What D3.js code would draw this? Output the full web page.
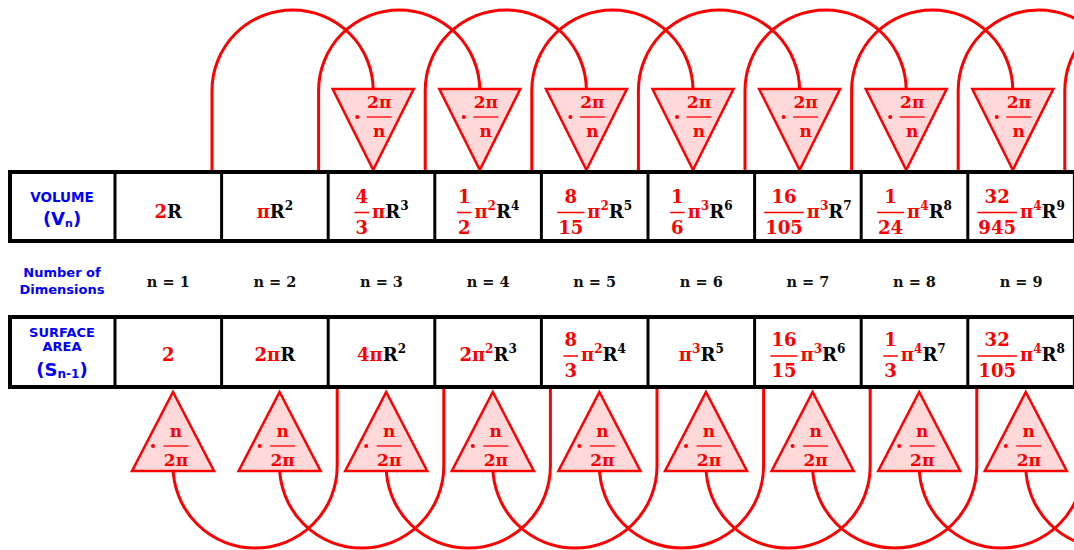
<!DOCTYPE html>
<html>
<head>
<meta charset="utf-8">
<script src="https://cdn.jsdelivr.net/npm/d3@7"></script>
<style>
  body { margin: 0; background: #fff; }
  svg { display: block; }
  .serif { font-family: "DejaVu Serif", serif; font-weight: bold; }
  .label { font-family: "DejaVu Sans", sans-serif; font-weight: bold; fill: #0000ff; }
</style>
</head>
<body>
<svg id="chart" width="1074" height="550"></svg>
<script>
/** Values */
const dims = [1, 2, 3, 4, 5, 6, 7, 8, 9];
// Volume V_n = coef * pi^p * R^r
const volumeCoef = ["2", "1", "4/3", "1/2", "8/15", "1/6", "16/105", "1/24", "32/945"];
const volumePiPow = [0, 1, 1, 2, 2, 3, 3, 4, 4];
const volumeRPow = [1, 2, 3, 4, 5, 6, 7, 8, 9];
// Surface area S_(n-1)
const surfaceCoef = ["2", "2", "4", "2", "8/3", "1", "16/15", "1/3", "32/105"];
const surfacePiPow = [0, 1, 1, 2, 2, 3, 3, 4, 4];
const surfaceRPow = [0, 1, 2, 3, 4, 5, 6, 7, 8];
// factors on the arcs (numerator, denominator)
const volumeFactor = ["2π", "n"];
const surfaceFactor = ["n", "2π"];

const RED = "#ff0000", PINK = "#ffd9d9";
const svg = d3.select("#chart");

/** Column scale: left edge of each n column (linear, so n+2 can go past the window) */
const colX = d3.scaleLinear().domain([1, 10]).range([115, 1074.4]);
const colW = colX(2) - colX(1);

const volRow = { y0: 172, y1: 241, base: 217.5 };
const surfRow = { y0: 317, y1: 387, base: 361 };

/** Arcs: V_n -> V_(n+2) over the top, S_n -> S_(n+2) under the bottom */
const arcs = svg.append("g").attr("fill", "none").attr("stroke", RED).attr("stroke-width", 3);

arcs.selectAll("path.top-arc")
  .data(dims)
  .enter()
  .append("path")
  .attr("class", "top-arc")
  .attr("d", n => {
    const xl = colX(n) + 97, xr = colX(n + 2) + 45, r = (xr - xl) / 2, cy = 90.5;
    return `M${xl},${volRow.y0} V${cy} A${r},${r} 0 0 1 ${xr},${cy} V89`;
  });

arcs.selectAll("path.bottom-arc")
  .data(dims)
  .enter()
  .append("path")
  .attr("class", "bottom-arc")
  .attr("d", n => {
    const xt = colX(n) + 58, xv = colX(n + 2) + 9, r = (xv - xt) / 2, cy = 466;
    return `M${xt},471 V${cy} A${r},${r} 0 0 0 ${xv},${cy} V${surfRow.y1}`;
  });

/** Triangles with the factor */
function drawFactor(g, cx, barY, dotDx, barDx, factor) {
  g.append("circle").attr("cx", cx + dotDx).attr("cy", barY).attr("r", 2).attr("fill", RED);
  g.append("line")
    .attr("x1", cx + barDx - 12.5).attr("x2", cx + barDx + 12.5)
    .attr("y1", barY).attr("y2", barY)
    .attr("stroke", RED).attr("stroke-width", 1.3);
  g.append("text").attr("class", "serif").attr("x", cx + barDx).attr("y", barY - 9)
    .attr("text-anchor", "middle").attr("fill", RED).style("font-size", "17px").text(factor[0]);
  g.append("text").attr("class", "serif").attr("x", cx + barDx).attr("y", barY + 20)
    .attr("text-anchor", "middle").attr("fill", RED).style("font-size", "17px").text(factor[1]);
}

// only the triangles that land inside the window (n = 3..9)
const topTri = svg.append("g").attr("id", "top-triangles");
dims.filter(n => n >= 3).forEach(n => {
  const cx = colX(n) + 45;
  const g = topTri.append("g");
  g.append("path")
    .attr("d", `M${cx - 40.5},89 L${cx + 40.5},89 L${cx},170 Z`)
    .attr("fill", PINK).attr("stroke", RED).attr("stroke-width", 2.5);
  drawFactor(g, cx, 117, -16, 6, volumeFactor);
});

const botTri = svg.append("g").attr("id", "bottom-triangles");
dims.forEach(n => {
  const cx = colX(n) + 58;
  const g = botTri.append("g");
  g.append("path")
    .attr("d", `M${cx},392 L${cx + 41},471 L${cx - 41},471 Z`)
    .attr("fill", PINK).attr("stroke", RED).attr("stroke-width", 2.5);
  drawFactor(g, cx, 446, -20, 3, surfaceFactor);
});

/** Tables */
function drawTable(t) {
  const g = svg.append("g");
  g.append("rect")
    .attr("x", 10).attr("y", t.y0)
    .attr("width", 1100).attr("height", t.y1 - t.y0)
    .attr("fill", "#fff").attr("stroke", "#000").attr("stroke-width", 4);
  g.selectAll("line")
    .data([1, ...dims.map(d => d + 1)])
    .enter()
    .append("line")
    .attr("x1", d => colX(d)).attr("x2", d => colX(d))
    .attr("y1", t.y0).attr("y2", t.y1)
    .attr("stroke", "#000").attr("stroke-width", 3);
  return g;
}
const volTable = drawTable(volRow);
const surfTable = drawTable(surfRow);

/** Formula in a cell: coef (red, maybe a fraction), pi^p (red), R^r (black) */
function drawFormula(g, coef, piPow, rPow, cx, base) {
  const f = g.append("g").attr("class", "serif");
  let x = 0;
  const put = (txt, color, size, dy) => {
    const t = f.append("text")
      .attr("x", x).attr("y", base + dy)
      .attr("fill", color).style("font-size", size + "px")
      .text(txt);
    x += t.node().getComputedTextLength();
  };
  if (coef.includes("/")) {
    const [num, den] = coef.split("/");
    const bar = base - 5;
    const a = f.append("text").attr("y", bar - 10).attr("fill", RED)
      .attr("text-anchor", "middle").style("font-size", "18px").text(num);
    const b = f.append("text").attr("y", bar + 21).attr("fill", RED)
      .attr("text-anchor", "middle").style("font-size", "18px").text(den);
    const w = Math.max(a.node().getComputedTextLength(), b.node().getComputedTextLength()) + 2;
    a.attr("x", x + w / 2);
    b.attr("x", x + w / 2);
    f.append("line")
      .attr("x1", x).attr("x2", x + w)
      .attr("y1", bar).attr("y2", bar)
      .attr("stroke", RED).attr("stroke-width", 1.5);
    x += w + 3;
  } else if (coef !== "1") {
    put(coef, RED, 18, 0);
  }
  if (piPow > 0) {
    put("π", RED, 18, 0);
    if (piPow > 1) put(String(piPow), RED, 12, -8);
  }
  if (rPow > 0) {
    put("R", "#000", 18, 0);
    if (rPow > 1) put(String(rPow), "#000", 12, -8);
  }
  f.attr("transform", `translate(${cx - x / 2},0)`);
}

dims.forEach((n, i) => {
  const cx = colX(n) + colW / 2;
  drawFormula(volTable, volumeCoef[i], volumePiPow[i], volumeRPow[i], cx, volRow.base);
  drawFormula(surfTable, surfaceCoef[i], surfacePiPow[i], surfaceRPow[i], cx, surfRow.base);
});

/** n = ... row */
svg.append("g").selectAll("text")
  .data(dims)
  .enter()
  .append("text")
  .attr("class", "serif")
  .attr("x", n => colX(n) + colW / 2)
  .attr("y", 287)
  .attr("text-anchor", "middle")
  .attr("fill", "#111")
  .style("font-size", "14.5px")
  .text(n => "n = " + n);

/** Row labels */
const labels = svg.append("g").attr("text-anchor", "middle");
labels.append("text").attr("class", "label").attr("x", 62).attr("y", 201.5)
  .style("font-size", "13.5px").text("VOLUME");
labels.append("text").attr("class", "label").attr("x", 62).attr("y", 225)
  .style("font-size", "18px")
  .each(function() {
    const t = d3.select(this);
    t.append("tspan").text("(V");
    t.append("tspan").attr("dy", 2).style("font-size", "11px").text("n");
    t.append("tspan").attr("dy", -2).text(")");
  });
labels.append("text").attr("class", "label").attr("x", 62).attr("y", 277)
  .style("font-size", "13px").text("Number of");
labels.append("text").attr("class", "label").attr("x", 62).attr("y", 294)
  .style("font-size", "13px").text("Dimensions");
labels.append("text").attr("class", "label").attr("x", 62).attr("y", 337)
  .style("font-size", "13px").text("SURFACE");
labels.append("text").attr("class", "label").attr("x", 62).attr("y", 351)
  .style("font-size", "13px").text("AREA");
labels.append("text").attr("class", "label").attr("x", 62).attr("y", 376)
  .style("font-size", "18px")
  .each(function() {
    const t = d3.select(this);
    t.append("tspan").text("(S");
    t.append("tspan").attr("dy", 2).style("font-size", "12px").text("n-1");
    t.append("tspan").attr("dy", -2).text(")");
  });
</script>
</body>
</html>
